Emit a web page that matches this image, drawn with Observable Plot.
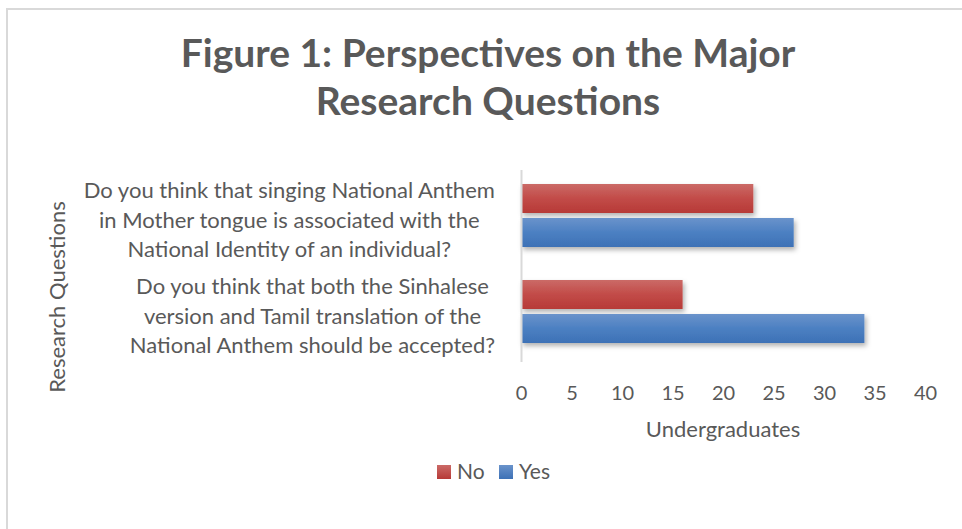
<!DOCTYPE html>
<html>
<head>
<meta charset="utf-8">
<script src="https://cdn.jsdelivr.net/npm/d3@7"></script>
<script src="https://cdn.jsdelivr.net/npm/@observablehq/plot@0.6"></script>
<style>
  html, body { margin: 0; padding: 0; background: #fff; }
  body { width: 962px; height: 529px; position: relative; overflow: hidden; font-family: Lato, "Open Sans", sans-serif; color: #595959; }
  .frame { position: absolute; left: 6px; top: 8px; width: 1100px; height: 700px; border-left: 2px solid #D9D9D9; border-top: 2px solid #D9D9D9; }
  .title { position: absolute; left: 0; top: 28px; width: 976px; text-align: center; font-weight: 700; font-size: 39px; line-height: 48px; color: #595959; }
  .abs { position: absolute; white-space: nowrap; line-height: 1; }
  #chart { position: absolute; left: 0; top: 150px; }
  .sw { position: absolute; width: 14px; height: 14px; }
</style>
</head>
<body>
<svg width="0" height="0" style="position:absolute">
  <defs>
    <linearGradient id="gNo" x1="0" y1="0" x2="0" y2="1">
      <stop offset="0" stop-color="#CB6A67"/>
      <stop offset="0.5" stop-color="#C24B48"/>
      <stop offset="1" stop-color="#B73A37"/>
    </linearGradient>
    <linearGradient id="gYes" x1="0" y1="0" x2="0" y2="1">
      <stop offset="0" stop-color="#6A93CB"/>
      <stop offset="0.5" stop-color="#4C80C2"/>
      <stop offset="1" stop-color="#3D71B6"/>
    </linearGradient>
    <filter id="shadow" x="-5%" y="-30%" width="115%" height="180%">
      <feDropShadow dx="2" dy="3" stdDeviation="2.5" flood-color="#000" flood-opacity="0.3"/>
    </filter>
  </defs>
</svg>
<div class="frame"></div>
<div class="title">Figure 1: Perspectives on the Major<br>Research Questions</div>
<div id="chart"></div>
<div class="abs" id="ytitle" style="font-size:22px;">Research Questions</div>
<div class="abs" id="xtitle" style="font-size:22px;">Undergraduates</div>
<div id="legend"></div>
<script>
const questions = [
  "Do you think that singing National Anthem in Mother tongue is associated with the National Identity of an individual?",
  "Do you think that both the Sinhalese version and Tamil translation of the National Anthem should be accepted?"
];
const questionLines = [
  ["Do you think that singing National Anthem", "in Mother tongue is associated with the", "National Identity of an individual?"],
  ["Do you think that both the Sinhalese", "version and Tamil translation of the", "National Anthem should be accepted?"]
];
const series = ["No", "Yes"];
const noValues = [23, 16];
const yesValues = [27, 34];
const xTicks = [0, 5, 10, 15, 20, 25, 30, 35, 40];
const seriesFill = {No: "url(#gNo)", Yes: "url(#gYes)"};
const legendGrad = {No: "#CB6A67, #B73A37", Yes: "#6A93CB, #3D71B6"};

const data = questions.flatMap((q, i) => [
  {question: q, series: "No", value: noValues[i]},
  {question: q, series: "Yes", value: yesValues[i]}
]);

const labelSize = 22;
const ctx = document.createElement("canvas").getContext("2d");
ctx.font = `${labelSize}px Lato`;
const marginLeft = 521;
const labelMarks = questions.map((q, i) => {
  const maxW = d3.max(questionLines[i], s => ctx.measureText(s).width);
  const center = 495 - maxW / 2;
  return Plot.text([i], {
    fy: j => questions[j],
    text: j => questionLines[j].join("\n"),
    frameAnchor: "left",
    dx: center - marginLeft,
    textAnchor: "middle",
    lineAnchor: "middle",
    lineHeight: 29.5 / labelSize,
    fontSize: labelSize,
    fill: "#595959"
  });
});

const chart = Plot.plot({
  width: 962,
  height: 300,
  marginTop: 20,
  marginBottom: 88,
  marginLeft: marginLeft,
  marginRight: 37,
  style: {fontFamily: "Lato, 'Open Sans', sans-serif", fontSize: "20px", color: "#595959", background: "transparent", overflow: "visible"},
  x: {domain: [0, 40]},
  y: {domain: series, paddingInner: 0.143, paddingOuter: 0.443, align: 0.44, axis: null},
  fy: {domain: questions, padding: 0, axis: null},
  marks: [
    ...series.map(s => Plot.barX(data.filter(d => d.series === s), {
      x: "value", y: "series", fy: "question", fill: seriesFill[s]
    })),
    Plot.ruleX([0], {stroke: "#D9D9D9", strokeWidth: 2}),
    Plot.axisX({ticks: xTicks, tickSize: 0, tickPadding: 23, fontSize: 20, fill: "#595959", label: null}),
    ...labelMarks
  ]
});
document.getElementById("chart").appendChild(chart);
chart.querySelectorAll('g[aria-label="bar"] rect').forEach(r => r.setAttribute("filter", "url(#shadow)"));

// axis titles
const yt = document.getElementById("ytitle");
const ytw = yt.getBoundingClientRect().width;
yt.style.left = (57 - ytw / 2) + "px";
yt.style.top = (297 - 11) + "px";
yt.style.transform = "rotate(-90deg)";
const xt = document.getElementById("xtitle");
const xtw = xt.getBoundingClientRect().width;
xt.style.left = (723 - xtw / 2) + "px";
xt.style.top = (437 - 19.5) + "px";

// legend
const legend = document.getElementById("legend");
const legendX = [437, 499];
series.forEach((s, i) => {
  const sw = document.createElement("div");
  sw.className = "sw";
  sw.style.left = legendX[i] + "px";
  sw.style.top = "465px";
  sw.style.background = `linear-gradient(${legendGrad[s]})`;
  legend.appendChild(sw);
  const t = document.createElement("div");
  t.className = "abs";
  t.style.fontSize = "21px";
  t.style.left = (legendX[i] + 20) + "px";
  t.style.top = (479 - 18.6) + "px";
  t.textContent = s;
  legend.appendChild(t);
});
</script>
</body>
</html>
